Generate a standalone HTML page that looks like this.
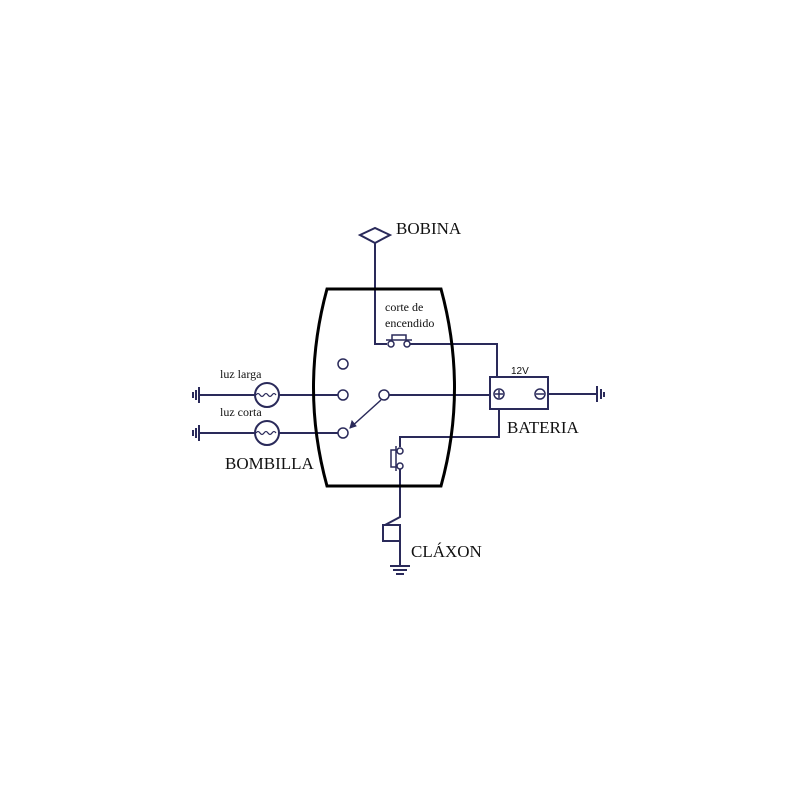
<!DOCTYPE html>
<html><head><style>body{margin:0;background:#fff}svg{display:block}</style></head><body>
<svg width="800" height="800" viewBox="0 0 800 800" xmlns="http://www.w3.org/2000/svg">
<g fill="none" stroke="#2a2a5a" stroke-width="2">
<!-- bobina -->
<path d="M360,235 L375,228 L390,235 L375,243 Z"/>
<path d="M375,243 V344 H387"/>
<circle cx="391" cy="344" r="3" stroke-width="1.5"/>
<circle cx="407" cy="344" r="3" stroke-width="1.5"/>
<path d="M386,340 h26 M392,340 v-5 h14 v5" stroke-width="1.5"/>
<path d="M410,344 H497 V377"/>
<!-- battery -->
<rect x="490" y="377" width="58" height="32"/>
<circle cx="499" cy="394" r="5" stroke-width="1.5"/>
<path d="M495,394h8M499,390v8M536,394h8" stroke-width="1.5"/>
<circle cx="540" cy="394" r="5" stroke-width="1.5"/>
<path d="M548,394 H596 M597,386 V402 M601,389 V399 M604,392 V397"/>
<!-- main switch -->
<circle cx="343" cy="364" r="5" stroke-width="1.5"/>
<circle cx="343" cy="395" r="5" stroke-width="1.5"/>
<circle cx="343" cy="433" r="5" stroke-width="1.5"/>
<circle cx="384" cy="395" r="5" stroke-width="1.5"/>
<path d="M389,395 H490"/>
<path d="M381,400 L350,428" stroke-width="1.5"/>
<path d="M350,428 l2,-7 l4,5 z" fill="#2a2a5a" stroke-width="1"/>
<!-- lamps -->
<path d="M199,395 H255 M279,395 H338"/>
<path d="M199,433 H255 M279,433 H338"/>
<circle cx="267" cy="395" r="12"/>
<circle cx="267" cy="433" r="12"/>
<path d="M256,395 q2,-3 4,0 t4,0 t4,0 t4,0 t4,0" stroke-width="1.2"/>
<path d="M256,433 q2,-3 4,0 t4,0 t4,0 t4,0 t4,0" stroke-width="1.2"/>
<path d="M199,387 V403 M196,390 V400 M193,392 V398"/>
<path d="M199,425 V441 M196,428 V438 M193,430 V436"/>
<!-- horn branch -->
<path d="M499,409 V437 H400 V447"/>
<circle cx="400" cy="451" r="3" stroke-width="1.5"/>
<circle cx="400" cy="466" r="3" stroke-width="1.5"/>
<path d="M396,446 v25 M396,450 h-5 v17 h5" stroke-width="1.5"/>
<path d="M400,469 V517 L385,525"/>
<rect x="383" y="525" width="17" height="16"/>
<path d="M400,541 V566 M390,566 h20 M393,570 h14 M396,574 h8"/>
</g>
<!-- body -->
<path d="M327,289 H441 Q468,388 441,486 H327 Q300,388 327,289 Z" fill="none" stroke="#000" stroke-width="3"/>
<g font-family="Liberation Serif, serif" fill="#111">
<text x="396" y="234" font-size="17">BOBINA</text>
<text x="385" y="311" font-size="12">corte de</text>
<text x="385" y="327" font-size="12">encendido</text>
<text x="220" y="378" font-size="12">luz larga</text>
<text x="220" y="416" font-size="12">luz corta</text>
<text x="225" y="469" font-size="17">BOMBILLA</text>
<text x="507" y="433" font-size="17">BATERIA</text>
<text x="411" y="557" font-size="17">CLÁXON</text>
</g>
<text x="511" y="374" font-size="10" font-family="Liberation Sans, sans-serif" fill="#111">12V</text>
</svg>
</body></html>
